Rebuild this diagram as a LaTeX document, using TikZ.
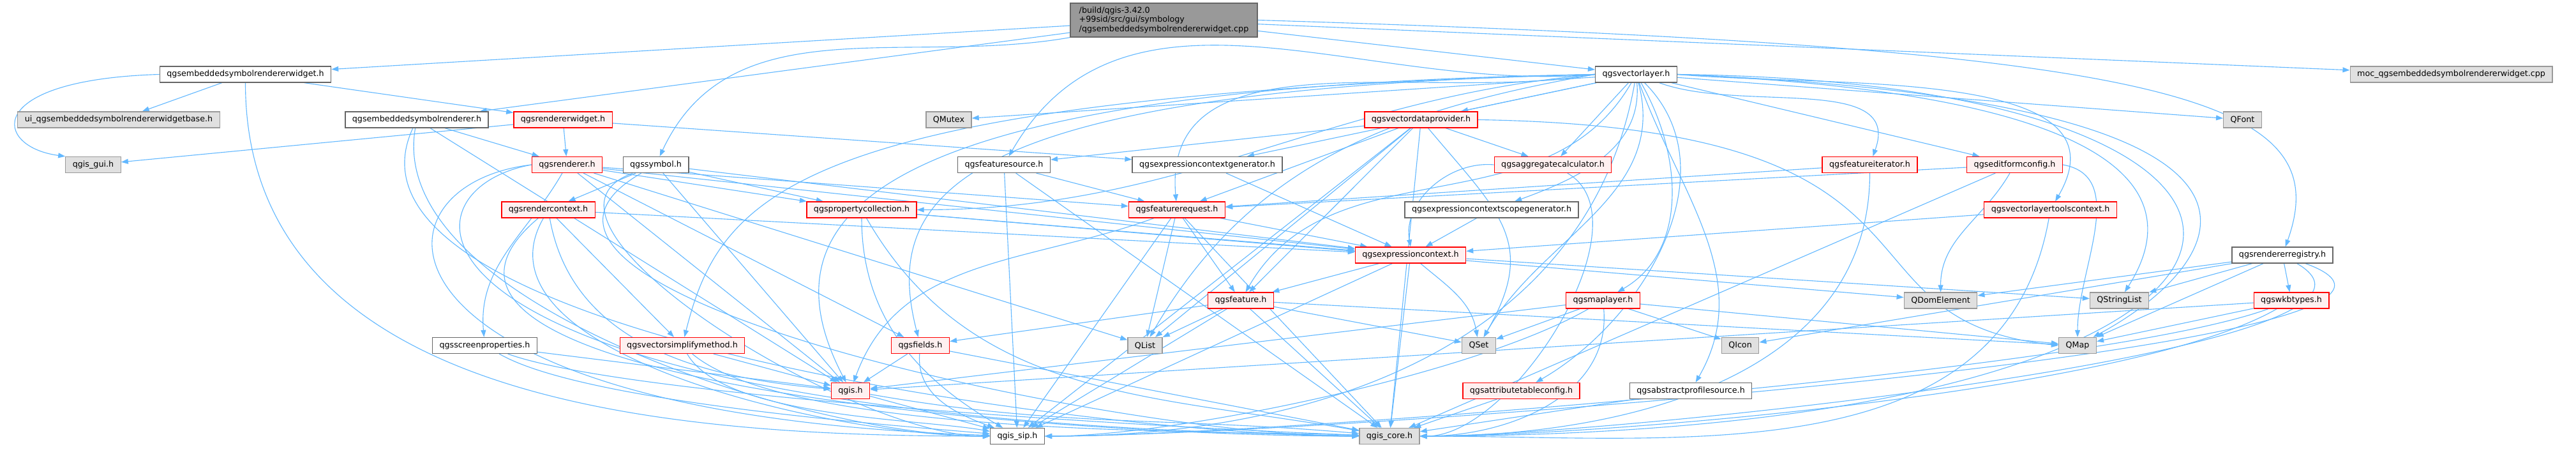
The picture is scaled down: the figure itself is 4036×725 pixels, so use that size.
\documentclass[tikz,border=0pt]{standalone}
\usepackage{fontspec}
\setmainfont{DejaVu Sans}
\usetikzlibrary{arrows.meta,backgrounds}
\definecolor{edgeblue}{HTML}{63B8FF}
\definecolor{boxred}{HTML}{FF0000}
\definecolor{redfill}{HTML}{FFF0F0}
\definecolor{boxgray}{HTML}{666666}
\definecolor{extgray}{HTML}{999999}
\definecolor{extfill}{HTML}{E0E0E0}
\begin{document}
\begin{tikzpicture}[x=0.25pt,y=0.25pt]
 \tikzset{file/.style = {draw=boxgray, fill=white, line width=0.33pt, minimum height=6.25pt, inner xsep=2.75pt, inner ysep=0pt, font=\fontsize{3.175}{3.575}\selectfont}}
 \tikzset{part/.style = {file, draw=boxred, fill=redfill}}
 \tikzset{ext/.style = {file, draw=extgray, fill=extfill}}
 \tikzset{dep/.style = {draw=edgeblue, line width=0.28pt, -{Triangle[length=2.75pt,width=2pt]}}}
 \useasboundingbox (0,0) rectangle (4036,-725);

 % files
 \node[file, fill=extgray, align=left, minimum height=13.25pt, minimum width=73.25pt, inner ysep=0.5pt] (main) at (1823.5,-31.5) {/build/qgis-3.42.0\\+99sid/src/gui/symbology\\/qgsembeddedsymbolrendererwidget.cpp};
 \node[file] (ew) at (384.5,-116.5) {qgsembeddedsymbolrendererwidget.h};
 \node[file] (vl) at (2563.5,-116.5) {qgsvectorlayer.h};
 \node[ext] (moc) at (3840.5,-116.5) {moc\_qgsembeddedsymbolrendererwidget.cpp};

 \node[ext] (ui) at (186,-187.5) {ui\_qgsembeddedsymbolrendererwidgetbase.h};
 \node[file] (er) at (653,-187.5) {qgsembeddedsymbolrenderer.h};
 \node[part] (rw) at (882,-187.5) {qgsrendererwidget.h};
 \node[ext] (qmutex) at (1486.5,-187.5) {QMutex};
 \node[part] (vdp) at (2226.5,-187.5) {qgsvectordataprovider.h};
 \node[ext] (qfont) at (3513.5,-187.5) {QFont};

 \node[ext] (gui) at (146,-258) {qgis\_gui.h};
 \node[part] (ren) at (888.5,-258) {qgsrenderer.h};
 \node[file] (sym) at (1027.5,-258) {qgssymbol.h};
 \node[file] (fsrc) at (1573,-258) {qgsfeaturesource.h};
 \node[file] (ecg) at (1891.5,-258) {qgsexpressioncontextgenerator.h};
 \node[part] (agg) at (2433,-258) {qgsaggregatecalculator.h};
 \node[part] (featiter) at (2929.5,-258) {qgsfeatureiterator.h};
 \node[part] (editform) at (3156.5,-258) {qgseditformconfig.h};

 \node[part] (rc) at (859,-328.5) {qgsrendercontext.h};
 \node[part] (propcol) at (1350,-328.5) {qgspropertycollection.h};
 \node[part] (featreq) at (1844,-328.5) {qgsfeaturerequest.h};
 \node[file] (ecsg) at (2337,-328.5) {qgsexpressioncontextscopegenerator.h};
 \node[part] (vltc) at (3212.5,-328.5) {qgsvectorlayertoolscontext.h};

 \node[part] (exprctx) at (2210,-399.5) {qgsexpressioncontext.h};
 \node[file] (rr) at (3576,-399.5) {qgsrendererregistry.h};

 \node[part] (feature) at (1944,-470.5) {qgsfeature.h};
 \node[part] (maplayer) at (2511.5,-470.5) {qgsmaplayer.h};
 \node[ext] (qdom) at (3040.5,-470.5) {QDomElement};
 \node[ext] (qsl) at (3320.5,-470.5) {QStringList};
 \node[part] (wkb) at (3590,-470.5) {qgswkbtypes.h};

 \node[file] (screen) at (759.5,-541) {qgsscreenproperties.h};
 \node[part] (vsm) at (1069,-541) {qgsvectorsimplifymethod.h};
 \node[part] (fields) at (1442,-541) {qgsfields.h};
 \node[ext] (qlist) at (1794,-541) {QList};
 \node[ext] (qset) at (2317,-541) {QSet};
 \node[ext] (qicon) at (2726.5,-541) {QIcon};
 \node[ext] (qmap) at (3255,-541) {QMap};

 \node[part] (qgis) at (1332.5,-612) {qgis.h};
 \node[part] (atc) at (2383.5,-612) {qgsattributetableconfig.h};
 \node[file] (aps) at (2649,-612) {qgsabstractprofilesource.h};

 \node[file] (sip) at (1594,-683) {qgis\_sip.h};
 \node[ext] (core) at (2177,-683) {qgis\_core.h};

 % includes
 \begin{pgfonlayer}{background}
 \draw[dep] (main) -- (ew);
 \draw[dep] (main) -- (er);
 \draw[dep] (main.south west) to[out=190,in=65] (sym);
 \draw[dep] (main) -- (vl);
 \draw[dep] (main) -- (moc);
 \draw[dep] (main.east) .. controls (3400,-75) and (3665,-150) .. (rr);

 \draw[dep] (ew) -- (ui);
 \draw[dep] (ew.west) .. controls (-30,-125) and (-10,-230) .. (gui.north west);
 \draw[dep] (ew) -- (rw);
 \draw[dep] (ew) to[out=-90,in=180] (sip);

 \draw[dep] (er) -- (ren);
 \draw[dep] (er) -- (qgis);
 \draw[dep] (er) to[out=-115,in=180,looseness=0.6] (core);
 \draw[dep] (er) to[out=-100,in=180,looseness=0.7] (sip);

 \draw[dep] (rw) -- (ren);
 \draw[dep] (rw) -- (gui);
 \draw[dep] (rw) -- (ecg);

 \draw[dep] (sym) -- (rc);
 \draw[dep] (sym) -- (qgis);
 \draw[dep] (sym) -- (propcol);
 \draw[dep] (sym) -- (exprctx);
 \draw[dep] (sym) to[out=-150,in=180,looseness=0.8] (core);
 \draw[dep] (sym) to[out=-160,in=180,looseness=0.8] (sip);

 \draw[dep] (ren) to[out=-120,in=95] (screen);
 \draw[dep] (ren) -- (fields);
 \draw[dep] (ren) -- (propcol);
 \draw[dep] (ren) -- (featreq);
 \draw[dep] (ren) -- (exprctx);
 \draw[dep] (ren) -- (qgis);
 \draw[dep] (ren) -- (qlist);
 \draw[dep] (ren.west) .. controls (600,-300) and (600,-660) .. (core);
 \draw[dep] (ren.west) .. controls (560,-290) and (560,-650) .. (sip);

 \draw[dep] (rc) -- (vsm);
 \draw[dep] (rc) to[out=-80,in=175] (qgis);
 \draw[dep] (rc) -- (exprctx);
 \draw[dep] (rc) to[out=-140,in=180,looseness=0.8] (core);
 \draw[dep] (rc) to[out=-120,in=180,looseness=0.8] (sip);

 \draw[dep] (screen) -- (qgis);
 \draw[dep] (screen) to[out=-20,in=178,looseness=0.4] (core);
 \draw[dep] (screen) to[out=-30,in=175,looseness=0.5] (sip);

 \draw[dep] (vsm) -- (qgis);
 \draw[dep] (vsm) to[out=-40,in=178,looseness=0.5] (core);
 \draw[dep] (vsm) to[out=-60,in=170,looseness=0.6] (sip);

 \draw[dep] (qgis) -- (sip);
 \draw[dep] (qgis) to[out=-10,in=175] (core);

 \draw[dep] (propcol) to[out=-90,in=150] (sip);
 \draw[dep] (propcol) -- (exprctx);
 \draw[dep] (propcol) -- (qdom);
 \draw[dep] (propcol) to[out=-60,in=170] (core);

 \draw[dep] (fields) -- (qgis);
 \draw[dep] (fields) to[out=-95,in=160] (sip);
 \draw[dep] (fields) -- (core);

 \draw[dep] (fsrc) -- (featreq);
 \draw[dep] (fsrc) -- (sip);
 \draw[dep] (fsrc) -- (core);

 \draw[dep] (ecg) -- (exprctx);
 \draw[dep] (ecsg) -- (exprctx);

 \draw[dep] (featreq) -- (feature);
 \draw[dep] (featreq) -- (exprctx);
 \draw[dep] (featreq) -- (qlist);
 \draw[dep] (featreq) to[out=-160,in=70] (qgis);
 \draw[dep] (featreq) -- (sip);
 \draw[dep] (featreq) -- (core);

 \draw[dep] (feature) -- (fields);
 \draw[dep] (feature) -- (qlist);
 \draw[dep] (feature) -- (qset);
 \draw[dep] (feature) -- (core);
 \draw[dep] (feature) -- (sip);
 \draw[dep] (feature) -- (qmap);

 \draw[dep] (exprctx) -- (feature);
 \draw[dep] (exprctx) to[out=-40,in=100] (qset);
 \draw[dep] (exprctx) -- (core);
 \draw[dep] (exprctx) -- (sip);
 \draw[dep] (exprctx) -- (qsl);

 \draw[dep] (vdp) -- (fsrc);
 \draw[dep] (vdp) -- (featreq);
 \draw[dep] (vdp) -- (feature);
 \draw[dep] (vdp) -- (agg);
 \draw[dep] (vdp) -- (qlist);
 \draw[dep] (vdp) to[out=-50,in=60,looseness=1.3] (qset);
 \draw[dep] (vdp.east) .. controls (3100,-200) and (2850,-500) .. (qmap.west);
 \draw[dep] (vdp) -- (sip);
 \draw[dep] (vdp) -- (core);

 \draw[dep] (agg.west) to[out=175,in=100] (exprctx.north);
 \draw[dep] (agg) to[out=-30,in=0,looseness=0.8] (core);

 \draw[dep] (maplayer) -- (qset);
 \draw[dep] (maplayer) -- (qicon);
 \draw[dep] (maplayer) -- (qmap);
 \draw[dep] (maplayer) -- (qgis);
 \draw[dep] (maplayer) to[out=-85,in=0] (core);
 \draw[dep] (maplayer) to[out=-150,in=0,looseness=0.6] (sip);

 \draw[dep] (atc) -- (core);
 \draw[dep] (aps) -- (core);

 \draw[dep] (featiter) -- (featreq);
 \draw[dep] (featiter) to[out=-90,in=0] (core);

 \draw[dep] (editform) to[out=-120,in=90] (qdom);
 \draw[dep] (editform.east) to[out=-10,in=90] (qmap.north);
 \draw[dep] (editform) -- (featreq);
 \draw[dep] (editform) -- (core);

 \draw[dep] (vltc) -- (exprctx);
 \draw[dep] (vltc) to[out=-100,in=0] (core);

 \draw[dep] (rr) -- (qsl);
 \draw[dep] (rr) -- (qdom);
 \draw[dep] (rr) -- (qicon);
 \draw[dep] (rr) -- (wkb);
 \draw[dep] (rr) -- (qmap);
 \draw[dep] (rr) to[out=-30,in=0,looseness=0.5] (core);
 \draw[dep] (rr) to[out=-20,in=0,looseness=0.5] (sip);

 \draw[dep] (wkb) -- (qmap);
 \draw[dep] (wkb) -- (qgis);
 \draw[dep] (wkb) to[out=-150,in=0,looseness=0.5] (core);
 \draw[dep] (wkb) to[out=-160,in=0,looseness=0.4] (sip);

 \draw[dep] (vl) -- (qmutex);
 \draw[dep] (vl.west) to[out=185,in=60] (fsrc);
 \draw[dep] (vl) -- (ecg);
 \draw[dep] (vl.west) to[out=190,in=95] (featreq);
 \draw[dep] (vl) -- (vdp);
 \draw[dep] (vl) -- (agg);
 \draw[dep] (vl) to[out=-85,in=20] (ecsg);
 \draw[dep] (vl) to[out=-120,in=60] (feature);
 \draw[dep] (vl) to[out=-60,in=30] (maplayer);
 \draw[dep] (vl) to[out=-75,in=60] (qset);
 \draw[dep] (vl.west) to[out=190,in=60] (qlist);
 \draw[dep] (vl.west) to[out=185,in=0] (propcol);
 \draw[dep] (vl.west) .. controls (1500,-140) and (1380,-300) .. (fields);
 \draw[dep] (vl.west) .. controls (1400,-135) and (1180,-320) .. (qgis);
 \draw[dep] (vl.west) .. controls (1250,-150) and (1130,-300) .. (vsm);
 \draw[dep] (vl) to[out=-20,in=70] (featiter);
 \draw[dep] (vl) -- (editform);
 \draw[dep] (vl.east) to[out=-5,in=60] (vltc);
 \draw[dep] (vl) -- (qfont);
 \draw[dep] (vl.east) .. controls (3400,-150) and (3410,-330) .. (qsl);
 \draw[dep] (vl.east) .. controls (3700,-160) and (3480,-420) .. (qmap);
 \draw[dep] (vl) to[out=-45,in=30] (atc);
 \draw[dep] (vl) to[out=-70,in=60] (aps);
 \draw[dep] (vl.east) .. controls (3780,-130) and (3700,-680) .. (core);
 \draw[dep] (vl) to[out=-100,in=0] (sip);
 \end{pgfonlayer}
\end{tikzpicture}
\end{document}
